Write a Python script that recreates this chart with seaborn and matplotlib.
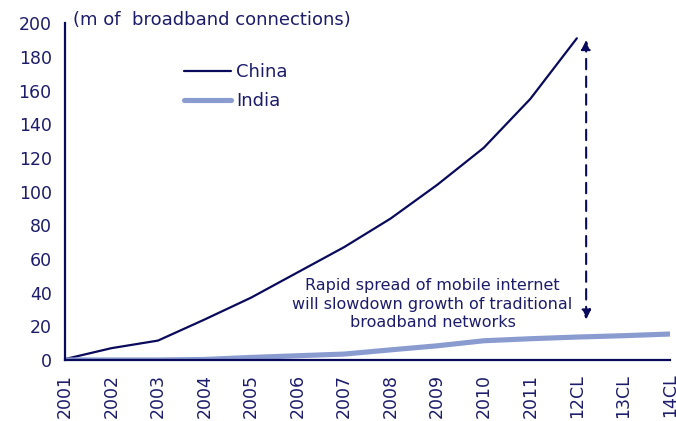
import matplotlib
matplotlib.use("Agg")
import matplotlib.pyplot as plt
import seaborn as sns
import pandas as pd

years = ["2001", "2002", "2003", "2004", "2005", "2006", "2007",
         "2008", "2009", "2010", "2011", "12CL", "13CL", "14CL"]
china = [0.5, 7, 11.5, 24, 37, 52, 67, 84, 104, 126, 155, 191, None, None]
india = [0, 0, 0, 0.3, 1.5, 2.5, 3.5, 6, 8.4, 11.4, 12.6, 13.6, 14.4, 15.4]

navy = "#0a0a5c"
light = "#8a9bd0"
text_col = "#1c1c6b"

sns.set_style("white")
plt.rcParams["font.family"] = ["DejaVu Sans"]

df = pd.DataFrame({
    "idx": list(range(len(years))) * 2,
    "value": china + india,
    "country": ["China"] * len(years) + ["India"] * len(years),
})

fig = plt.figure(figsize=(6.76, 4.21), dpi=100)
ax = fig.add_axes([0.096, 0.145, 0.895, 0.80])

sns.lineplot(data=df[df.country == "China"].dropna(), x="idx", y="value",
             color=navy, lw=1.6, ax=ax, label="China")
sns.lineplot(data=df[df.country == "India"], x="idx", y="value",
             color=light, lw=3.7, ax=ax, label="India")

ax.set_xlim(0, len(years) - 1)
ax.set_ylim(0, 200)
ax.set_yticks(range(0, 201, 20))
ax.set_xticks(range(len(years)))
ax.set_xticklabels(years, rotation=90)
ax.set_xlabel("")
ax.set_ylabel("")

for s in ["top", "right"]:
    ax.spines[s].set_visible(False)
for s in ["left", "bottom"]:
    ax.spines[s].set_color(navy)
    ax.spines[s].set_linewidth(1.6)

ax.tick_params(axis="both", colors=navy, labelcolor=text_col, labelsize=12.5,
               length=5, width=1.5, direction="out")
ax.tick_params(axis="y", pad=4.5)
ax.tick_params(axis="x", pad=6, length=4)

leg = ax.legend(loc="upper left", bbox_to_anchor=(0.17, 0.93), frameon=False,
                fontsize=13, handlelength=2.6, handletextpad=0.3,
                labelspacing=0.62)
for t in leg.get_texts():
    t.set_color(text_col)

ax.text(0.013, 1.008, "(m of  broadband connections)", transform=ax.transAxes,
        fontsize=13, color=text_col, va="center", ha="left")

# double-headed dashed arrow showing the gap
ax.annotate("", xy=(11.2, 190), xytext=(11.2, 24),
            arrowprops=dict(arrowstyle="<|-|>", color=navy, lw=1.5,
                            linestyle=(0, (5, 3.5)), mutation_scale=14,
                            shrinkA=0, shrinkB=0))

ax.text(7.9, 48.5, "Rapid spread of mobile internet\nwill slowdown growth of traditional\nbroadband networks",
        fontsize=11.5, color=text_col, ha="center", va="top",
        linespacing=1.3)

fig.savefig("out.png", dpi=100)
